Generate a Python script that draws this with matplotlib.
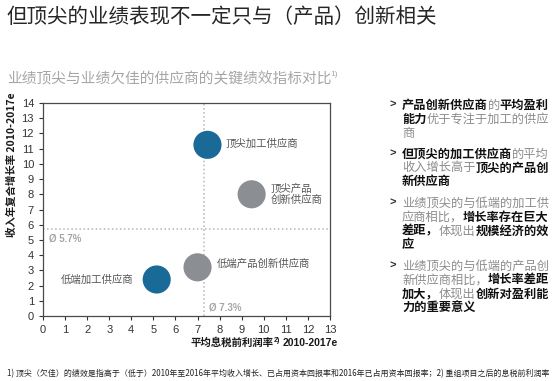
import matplotlib
matplotlib.use('Agg')
import matplotlib.pyplot as plt

plt.rcParams['font.family'] = ['Noto Sans CJK SC', 'DejaVu Sans']

# data
ebit_margin = [5.15, 7.0, 7.45, 9.45]          # x, %
revenue_cagr = [2.4, 3.2, 11.25, 8.0]          # y, %
supplier_names = ['低端加工供应商', '低端产品创新供应商', '顶尖加工供应商', '顶尖产品\n创新供应商']
supplier_type = ['加工', '产品', '加工', '产品']
avg_margin = 7.3
avg_growth = 5.7
x_ticks = list(range(0, 14))
y_ticks = list(range(0, 15))

title = '但顶尖的业绩表现不一定只与（产品）创新相关'
subtitle = '业绩顶尖与业绩欠佳的供应商的关键绩效指标对比'
y_label = '收入年复合增长率 2010-2017e'
x_label = '平均息税前利润率'
footnote = ('1) 顶尖（欠佳）的绩效是指高于（低于）2010年至2016年平均收入增长、已占用资本回报率和'
            '2016年已占用资本回报率；2) 重组项目之后的息税前利润率')

# right-hand notes: each bullet is a list of lines, each line a list of (text, bold)
bullets = [
  [[('产品创新供应商', True), ('的', False), ('平均盈利', True)],
   [('能力', True), ('优于专注于加工的供应', False)],
   [('商', False)]],
  [[('但顶尖的加工供应商', True), ('的平均', False)],
   [('收入增长高于', False), ('顶尖的产品创', True)],
   [('新供应商', True)]],
  [[('业绩顶尖的与低端的加工供', False)],
   [('应商相比，', False), ('增长率存在巨大', True)],
   [('差距，', True), ('体现出', False), ('规模经济的效', True)],
   [('应', True)]],
  [[('业绩顶尖的与低端的产品创', False)],
   [('新供应商相比，', False), ('增长率差距', True)],
   [('加大，', True), ('体现出', False), ('创新对盈利能', True)],
   [('力的重要意义', True)]],
]

W, H = 554, 381
fig = plt.figure(figsize=(W / 100, H / 100), dpi=100)
fig.patch.set_facecolor('white')

def fx(px):
  return px / W

def fy(py):
  return 1 - py / H

ax = fig.add_axes([fx(43), fy(316), fx(330) - fx(43), fy(103) - fy(316)])

colors = {'加工': '#1a6a97', '产品': '#8b8e92'}
for x, y, k in zip(ebit_margin, revenue_cagr, supplier_type):
  ax.scatter(x, y, s=410, color=colors[k], edgecolors='none', zorder=3)

# label offsets (layout only)
offsets = [(-1.05, 0.0, 'right'), (0.85, 0.25, 'left'), (0.8, 0.1, 'left'), (0.85, 0.0, 'left')]
for x, y, name, (dx, dy, ha) in zip(ebit_margin, revenue_cagr, supplier_names, offsets):
  ax.text(x + dx, y + dy, name, ha=ha, va='center', fontsize=7.5, color='#555555',
          linespacing=1.15, zorder=4)

ax.axvline(avg_margin, color='#b5b5b5', linestyle=':', linewidth=1.1, zorder=1)
ax.axhline(avg_growth, color='#b5b5b5', linestyle=':', linewidth=1.1, zorder=1)
ax.text(0.25, avg_growth - 0.6, 'Ø %.1f%%' % avg_growth, fontsize=7, color='#a3a7ab',
        fontweight='bold', family='Liberation Sans', va='center')
ax.text(avg_margin + 0.2, 0.55, 'Ø %.1f%%' % avg_margin, fontsize=7, color='#a3a7ab',
        fontweight='bold', family='Liberation Sans', va='center')

ax.set_xlim(0, 13)
ax.set_ylim(0, 14)
ax.set_xticks(x_ticks)
ax.set_yticks(y_ticks)
for lab in ax.get_xticklabels() + ax.get_yticklabels():
  lab.set_family('Liberation Sans')
ax.tick_params(labelsize=8, colors='#333333', length=3, width=0.8, direction='out')
for s in ax.spines.values():
  s.set_color('#4a4a4a')
  s.set_linewidth(0.9)

# titles
fig.text(fx(7), fy(17), title, fontsize=14.8, color='#262626', va='center')
r = fig.canvas.get_renderer()
t = fig.text(fx(7), fy(79), subtitle, fontsize=10.6, color='#a6a6a6', va='center')
bb = t.get_window_extent(r)
fig.text(bb.x1 / W - fx(1), fy(75), '1)', fontsize=6, color='#a6a6a6', va='center',
         family='Liberation Sans')

# axis labels
fig.text(fx(12), fy(92), y_label, rotation=90, fontsize=7.5, fontweight='bold',
         color='#1a1a1a', va='top', ha='center')
t = fig.text(fx(338), fy(343), '2010-2017e', fontsize=7.5, fontweight='bold',
             color='#1a1a1a', va='center', ha='right', family='Liberation Sans')
bb = t.get_window_extent(r)
t = fig.text(bb.x0 / W - fx(3), fy(340), '2)', fontsize=5, fontweight='bold',
             color='#1a1a1a', va='center', ha='right', family='Liberation Sans')
bb = t.get_window_extent(r)
fig.text(bb.x0 / W, fy(343), x_label, fontsize=7.5, fontweight='bold',
         color='#1a1a1a', va='center', ha='right')

# notes on the right, full-width glyphs so each char advances one em
note_size = 8.8
em = note_size * 100 / 72
y = 105
for lines in bullets:
  fig.text(fx(389), fy(y), '>', fontsize=8, fontweight='bold', color='#333333',
           va='center', family='Liberation Sans')
  for segs in lines:
    px = 402
    for txt, bold in segs:
      fig.text(fx(px), fy(y), txt, fontsize=note_size, va='center',
               color='#111111' if bold else '#8c8c8c',
               fontweight='bold' if bold else 'normal')
      px += em * len(txt)
    y += 14
  y += 7

# footnote: fit to the width between x=7 and x=549
t = fig.text(fx(7), fy(374), footnote, fontsize=5.5, color='#222222', va='center')
w = t.get_window_extent(r).width
t.set_fontsize(5.5 * 540 / w)

fig.savefig('out.png', dpi=100)
